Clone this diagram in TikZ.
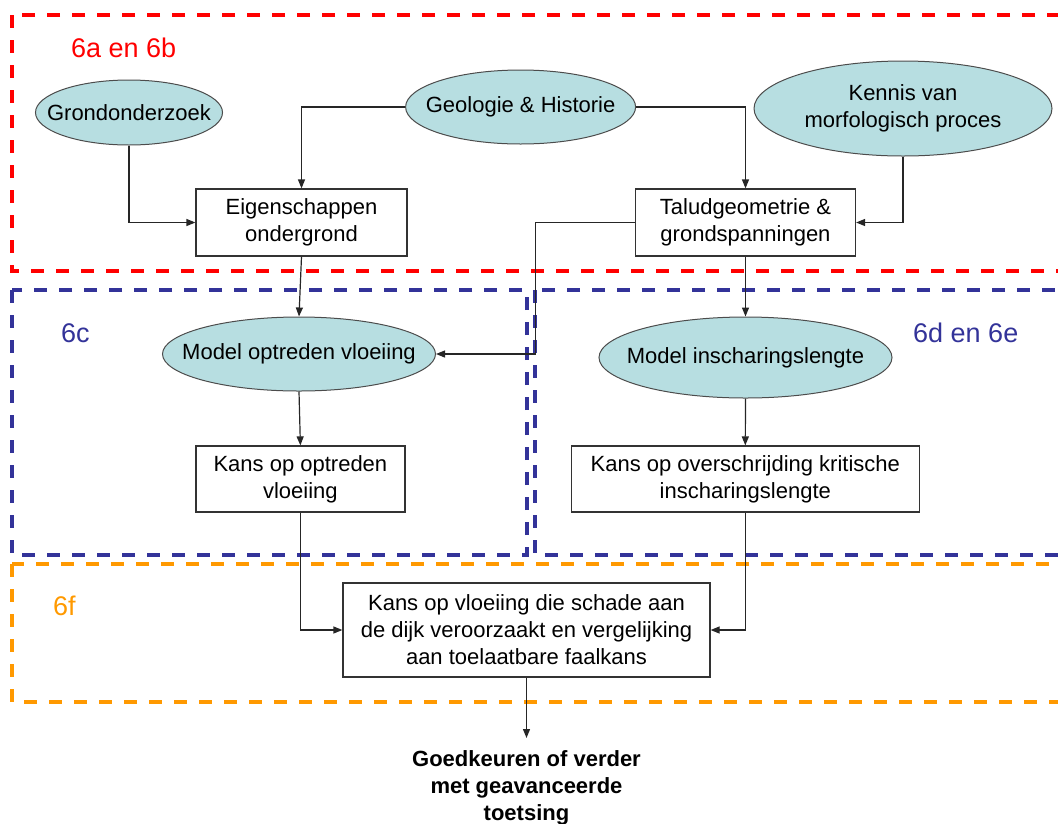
\documentclass[tikz,border=0pt]{standalone}
\usepackage{fontspec}
\setmainfont{Liberation Sans}
\usetikzlibrary{shapes.geometric,arrows.meta}
\definecolor{ellfill}{RGB}{183,222,225}
\definecolor{zred}{RGB}{255,0,0}
\definecolor{zblue}{RGB}{51,51,153}
\definecolor{zorange}{RGB}{255,153,0}
\begin{document}
\begin{tikzpicture}[x=1pt,y=-1pt,
 every node/.style={font=\fontsize{22}{27}\selectfont},
 ell/.style={ellipse, draw=black!70, line width=1pt, fill=ellfill, inner sep=0pt},
 elltext/.style={label={[align=center, inner sep=0pt]center:#1}},
 box/.style={rectangle, draw=black!80, line width=1.2pt, fill=white, inner sep=0pt, align=center},
 conn/.style={draw=black!85, line width=1.2pt, -{Triangle[length=9pt,width=7pt]}},
 zone/.style={line width=3.5pt, dash pattern=on 13pt off 12pt},
 zlabel/.style={font=\fontsize{27}{32}\selectfont, anchor=base west, inner sep=0pt}
]
\useasboundingbox (0,0) rectangle (1058,823);
\clip (0,0) rectangle (1058,823);

% zones
\draw[zone, zred] (12,15) rectangle (1080,271);
\draw[zone, zblue] (12,290) rectangle (527,555);
\draw[zone, zblue] (535,290) rectangle (1080,555);
\draw[zone, zorange] (12,564) rectangle (1080,702);

\node[zlabel, text=zred] (la) at (71,57) {6a en 6b};
\node[zlabel, text=zblue] (lc) at (61,342) {6c};
\node[zlabel, text=zblue] (ld) at (913,342) {6d en 6e};
\node[zlabel, text=zorange] (lf) at (53,615) {6f};

% nodes
\node[ell, minimum width=187pt, minimum height=65pt, elltext={Grondonderzoek}] (gro) at (129,112.5) {};
\node[ell, minimum width=230pt, minimum height=74pt, elltext={Geologie \& Historie}] (geo) at (520.6,107) {};
\node[ell, minimum width=298pt, minimum height=95pt, elltext={Kennis van\\morfologisch proces}] (ken) at (903,108.5) {};
\node[box, minimum width=211pt, minimum height=67pt] (eig) at (301.5,222.5) {Eigenschappen\\ondergrond};
\node[box, minimum width=220pt, minimum height=67pt] (tal) at (745.5,222.5) {Taludgeometrie \&\\grondspanningen};
\node[ell, minimum width=273pt, minimum height=74pt, elltext={Model optreden vloeiing}] (mov) at (299,354) {};
\node[ell, minimum width=293pt, minimum height=81pt, elltext={Model inscharingslengte}] (mis) at (745.5,357.5) {};
\node[box, minimum width=209pt, minimum height=66pt] (kop) at (300.4,479) {Kans op optreden\\vloeiing};
\node[box, minimum width=348pt, minimum height=66pt] (kov) at (745.3,479) {Kans op overschrijding kritische\\inscharingslengte};
\node[box, minimum width=367pt, minimum height=94pt] (fin) at (526.5,630) {Kans op vloeiing die schade aan\\de dijk veroorzaakt en vergelijking\\aan toelaatbare faalkans};
\node[anchor=north, inner xsep=0pt, inner ysep=12pt, align=center, font=\fontsize{22}{27}\selectfont\bfseries] (goed) at (526.5,738) {Goedkeuren of verder\\met geavanceerde\\toetsing};

\coordinate (bend) at (535.4,222.5);

% connectors
\draw[conn] (gro.south) |- (eig.west);
\draw[conn] (geo.west) -| (eig.north);
\draw[conn] (geo.east) -| (tal.north);
\draw[conn] (ken.south) |- (tal.east);
\draw[conn] (eig.south) -- (mov.north);
\draw[conn] (tal.west) -- (bend) |- (mov.east);
\draw[conn] (tal.south) -- (mis.north);
\draw[conn] (mov.south) -- (kop.north);
\draw[conn] (mis.south) -- (kov.north);
\draw[conn] (kop.south) |- (fin.west);
\draw[conn] (kov.south) |- (fin.east);
\draw[conn] (fin.south) -- (goed.north);
\end{tikzpicture}
\end{document}
